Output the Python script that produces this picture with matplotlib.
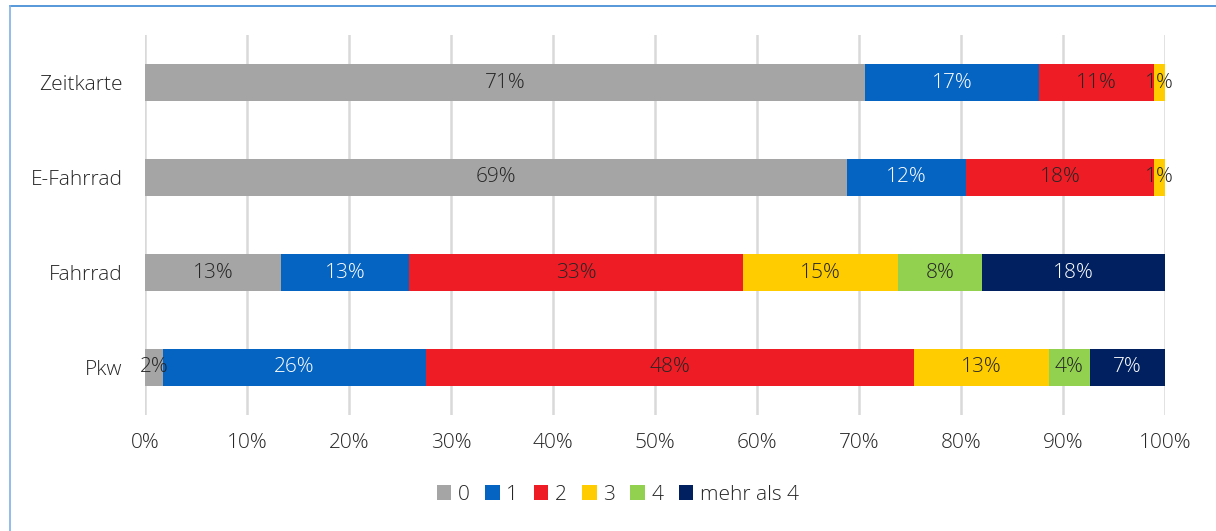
import matplotlib.pyplot as plt
from matplotlib.patches import Patch
from matplotlib.lines import Line2D

plt.rcParams["font.family"] = ["Open Sans", "DejaVu Sans"]

# Kategorien von unten nach oben
kategorien = ["Pkw", "Fahrrad", "E-Fahrrad", "Zeitkarte"]
gruppen = ["0", "1", "2", "3", "4", "mehr als 4"]

# Anteile in Prozent je Gruppe (Reihenfolge wie kategorien)
anteil_0 = [1.8, 13.3, 68.8, 70.6]
anteil_1 = [25.7, 12.6, 11.7, 17.0]
anteil_2 = [47.9, 32.7, 18.4, 11.3]
anteil_3 = [13.2, 15.2, 1.1, 1.1]
anteil_4 = [4.0, 8.3, 0.0, 0.0]
anteil_mehr = [7.4, 17.9, 0.0, 0.0]
anteile = [anteil_0, anteil_1, anteil_2, anteil_3, anteil_4, anteil_mehr]

farben = ["#A5A5A5", "#0563C1", "#EE1C25", "#FFCC00", "#92D050", "#002060"]
textfarben = ["#262626", "white", "#262626", "#262626", "#262626", "white"]
grau_text = "#262626"
fs = 15

fig = plt.figure(figsize=(12.16, 5.31), dpi=100)
ax = fig.add_axes([145 / 1216, 1 - 415 / 531, 1020 / 1216, 380 / 531])

y = list(range(len(kategorien)))
links = [0.0] * len(kategorien)
for werte, farbe, tf in zip(anteile, farben, textfarben):
    ax.barh(y, werte, left=links, height=0.39, color=farbe, zorder=2)
    for i, v in enumerate(werte):
        if v > 0:
            ax.text(links[i] + v / 2, y[i], f"{v:.0f}%", ha="center", va="center",
                    color=tf, fontsize=fs, fontweight="light", zorder=3)
    links = [l + v for l, v in zip(links, werte)]

ax.set_xlim(0, 100)
ax.set_ylim(-0.5, 3.5)
ax.set_xticks(range(0, 101, 10))
ax.set_xticklabels([f"{t}%" for t in range(0, 101, 10)], fontsize=fs,
                   fontweight="light", color=grau_text)
ax.set_yticks(y)
ax.set_yticklabels(kategorien, fontsize=fs, fontweight="light", color=grau_text)
ax.tick_params(axis="both", length=0)
ax.tick_params(axis="x", pad=13)
ax.tick_params(axis="y", pad=16)
ax.grid(axis="x", color="#D9D9D9", linewidth=1.8, zorder=0)
for s in ax.spines.values():
    s.set_visible(False)

handles = [Patch(facecolor=f, edgecolor="none") for f in farben]
leg = fig.legend(handles, gruppen, loc="center", bbox_to_anchor=(0.508, 0.068), ncol=6,
                 frameon=False, fontsize=fs, handlelength=0.7, handleheight=0.7,
                 handletextpad=0.3, columnspacing=0.75, labelcolor=grau_text)
for t in leg.get_texts():
    t.set_fontweight("light")

# Rahmen oben und links
fig.add_artist(Line2D([10 / 1216, 1], [1 - 6 / 531] * 2, color="#3A86D4", linewidth=1.2))
fig.add_artist(Line2D([10 / 1216] * 2, [0, 1 - 6 / 531], color="#7FB2E5", linewidth=1.2))

fig.savefig("out.png", dpi=100, facecolor="white")
